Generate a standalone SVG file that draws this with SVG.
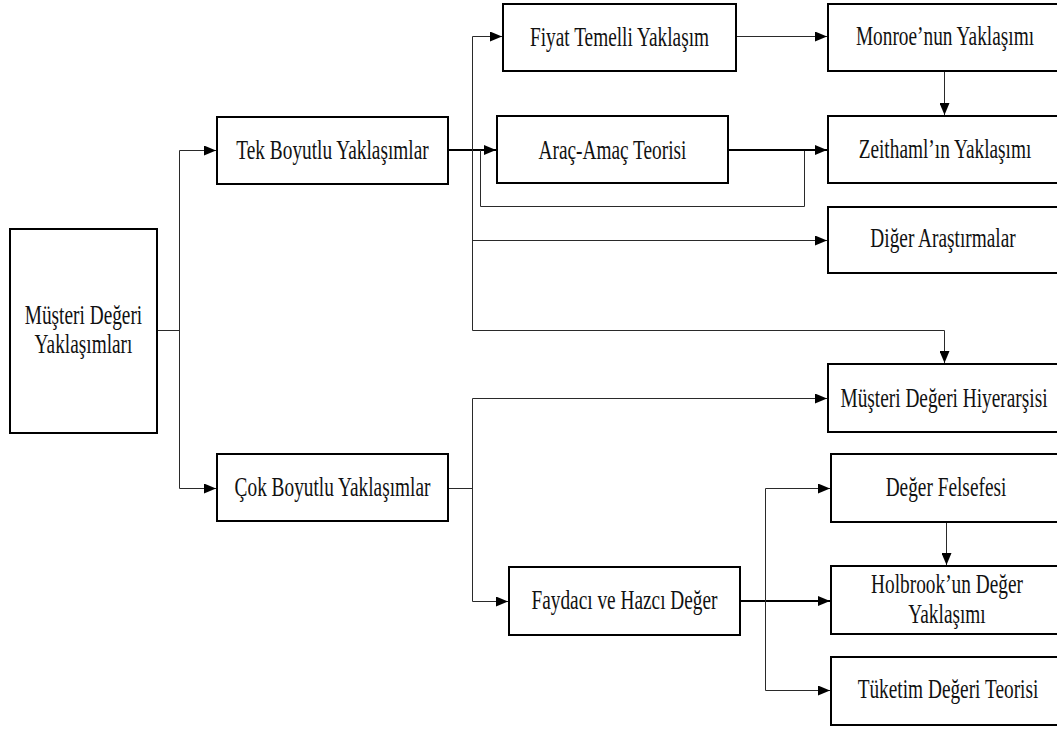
<svg xmlns="http://www.w3.org/2000/svg" width="1057" height="729" viewBox="0 0 1057 729">
  <style>
    .box { fill: #ffffff; stroke: #000000; stroke-width: 2; }
    .lbl { font-family: 'Liberation Serif', 'Times New Roman', serif; font-size: 28px; fill: #111111; text-anchor: middle; }
    .c { fill: none; stroke: #2a2a2a; stroke-width: 1; }
    .t { fill: none; stroke: #000000; stroke-width: 2; }
  </style>
  <defs>
    <marker id="arrow" markerUnits="userSpaceOnUse" markerWidth="12" markerHeight="10" refX="12" refY="5" orient="auto">
      <path d="M0 0 L12 5 L0 10 Z" fill="#000000"/>
    </marker>
  </defs>

  <rect width="1057" height="729" fill="#ffffff"/>

  <!-- connectors -->
  <g id="connectors">
    <!-- root to the two main approaches -->
    <path class="c" d="M157 330.5 H179.5"/>
    <path class="c" d="M179.5 150.5 V488.5"/>
    <path class="c" d="M179.5 150.5 H216" marker-end="url(#arrow)"/>
    <path class="c" d="M179.5 488.5 H216" marker-end="url(#arrow)"/>

    <!-- one-dimensional branch -->
    <path class="t" d="M448 150 H496" marker-end="url(#arrow)"/>
    <path class="c" d="M472.5 36.5 V330.5"/>
    <path class="c" d="M472.5 36.5 H502" marker-end="url(#arrow)"/>
    <path class="c" d="M472.5 240.5 H827" marker-end="url(#arrow)"/>
    <path class="c" d="M472.5 330.5 H944.5 V363" marker-end="url(#arrow)"/>
    <path class="c" d="M480.5 150 V206.5 H804.5 V150"/>
    <path class="t" d="M728 150 H827" marker-end="url(#arrow)"/>
    <path class="c" d="M736 36.5 H827" marker-end="url(#arrow)"/>
    <path class="c" d="M944.5 71 V115" marker-end="url(#arrow)"/>

    <!-- multi-dimensional branch -->
    <path class="c" d="M448 488.5 H472.5"/>
    <path class="c" d="M472.5 398.5 V601.5"/>
    <path class="c" d="M472.5 398.5 H827" marker-end="url(#arrow)"/>
    <path class="c" d="M472.5 601.5 H508" marker-end="url(#arrow)"/>
    <path class="t" d="M740 601 H830" marker-end="url(#arrow)"/>
    <path class="c" d="M765.5 488.5 V690.5"/>
    <path class="c" d="M765.5 488.5 H830" marker-end="url(#arrow)"/>
    <path class="c" d="M765.5 690.5 H830" marker-end="url(#arrow)"/>
    <path class="c" d="M946.5 522 V565" marker-end="url(#arrow)"/>
  </g>

  <!-- nodes -->
  <g id="root">
    <rect class="box" x="10" y="229" width="147" height="204"/>
    <text class="lbl" transform="translate(83.5 324) scale(0.69 1)">Müşteri Değeri</text>
    <text class="lbl" transform="translate(83.5 353) scale(0.69 1)">Yaklaşımları</text>
  </g>
  <g id="tek-boyutlu">
    <rect class="box" x="217" y="117" width="231" height="67"/>
    <text class="lbl" transform="translate(332.5 159) scale(0.69 1)">Tek Boyutlu Yaklaşımlar</text>
  </g>
  <g id="cok-boyutlu">
    <rect class="box" x="217" y="454" width="231" height="67"/>
    <text class="lbl" transform="translate(332.5 496) scale(0.69 1)">Çok Boyutlu Yaklaşımlar</text>
  </g>
  <g id="fiyat-temelli">
    <rect class="box" x="503" y="4" width="233" height="67"/>
    <text class="lbl" transform="translate(619.5 45.5) scale(0.69 1)">Fiyat Temelli Yaklaşım</text>
  </g>
  <g id="arac-amac">
    <rect class="box" x="497" y="116" width="231" height="67"/>
    <text class="lbl" transform="translate(612.5 158.5) scale(0.69 1)">Araç-Amaç Teorisi</text>
  </g>
  <g id="monroe">
    <rect class="box" x="828" y="4" width="234" height="67"/>
    <text class="lbl" transform="translate(945 45) scale(0.69 1)">Monroe’nun Yaklaşımı</text>
  </g>
  <g id="zeithaml">
    <rect class="box" x="828" y="116" width="234" height="67"/>
    <text class="lbl" transform="translate(945 158) scale(0.69 1)">Zeithaml’ın Yaklaşımı</text>
  </g>
  <g id="diger">
    <rect class="box" x="828" y="207" width="234" height="66"/>
    <text class="lbl" transform="translate(943 247) scale(0.69 1)">Diğer Araştırmalar</text>
  </g>
  <g id="hiyerarsi">
    <rect class="box" x="828" y="364" width="234" height="68"/>
    <text class="lbl" transform="translate(944 407) scale(0.69 1)">Müşteri Değeri Hiyerarşisi</text>
  </g>
  <g id="deger-felsefesi">
    <rect class="box" x="831" y="454" width="231" height="68"/>
    <text class="lbl" transform="translate(946 496) scale(0.69 1)">Değer Felsefesi</text>
  </g>
  <g id="faydaci-hazci">
    <rect class="box" x="509" y="567" width="231" height="68"/>
    <text class="lbl" transform="translate(624.5 609) scale(0.69 1)">Faydacı ve Hazcı Değer</text>
  </g>
  <g id="holbrook">
    <rect class="box" x="831" y="566" width="231" height="68"/>
    <text class="lbl" transform="translate(947 593) scale(0.69 1)">Holbrook’un Değer</text>
    <text class="lbl" transform="translate(947 623) scale(0.69 1)">Yaklaşımı</text>
  </g>
  <g id="tuketim">
    <rect class="box" x="831" y="657" width="231" height="68"/>
    <text class="lbl" transform="translate(948 698) scale(0.69 1)">Tüketim Değeri Teorisi</text>
  </g>
</svg>
